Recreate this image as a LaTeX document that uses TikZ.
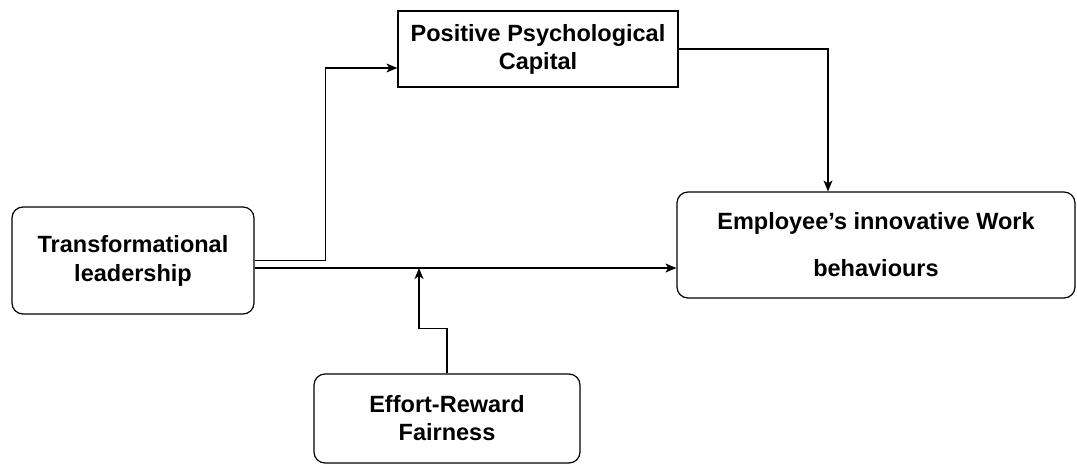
\documentclass[tikz,border=0pt]{standalone}
\usepackage{fontspec}
\setmainfont{Liberation Sans}
\usetikzlibrary{arrows.meta}
\begin{document}
\begin{tikzpicture}[x=1pt, y=-1pt,
  box/.style={shape=rectangle, draw=black, line width=1.2pt, align=center, inner sep=0pt,
    font=\fontsize{23.5}{29}\selectfont\bfseries},
  rbox/.style={box, rounded corners=11pt},
  link/.style={-{Stealth[length=11pt,width=9pt,inset=3pt]}, line width=1.2pt, draw=black}]
\useasboundingbox (0,0) rectangle (1077,464);
\node[rbox, minimum width=242pt, minimum height=107pt] (TL) at (133,260.5) {Transformational\\leadership};
\node[box, minimum width=280pt, minimum height=76pt, font=\fontsize{23.5}{28}\selectfont\bfseries] (PPC) at (538,49) {Positive Psychological\\Capital};
\node[rbox, minimum width=398pt, minimum height=106pt] (EIW) at (876,245) {Employee’s innovative Work\\[18pt]behaviours};
\node[rbox, minimum width=266pt, minimum height=89pt, font=\fontsize{23.5}{28}\selectfont\bfseries] (ERF) at (447,418.5) {Effort-Reward\\Fairness};
\coordinate (mod) at (419,268);
\draw[link] (TL.east) -- ++(71,0) |- ([yshift=-19pt]PPC.west);
\draw[link] ([yshift=-7.5pt]TL.east) -- ([yshift=-23pt]EIW.west);
\draw[link] (PPC.east) -| ([xshift=-48pt]EIW.north);
\draw[link] (ERF.north) -- ++(0,-45) -| (mod);
\end{tikzpicture}
\end{document}
